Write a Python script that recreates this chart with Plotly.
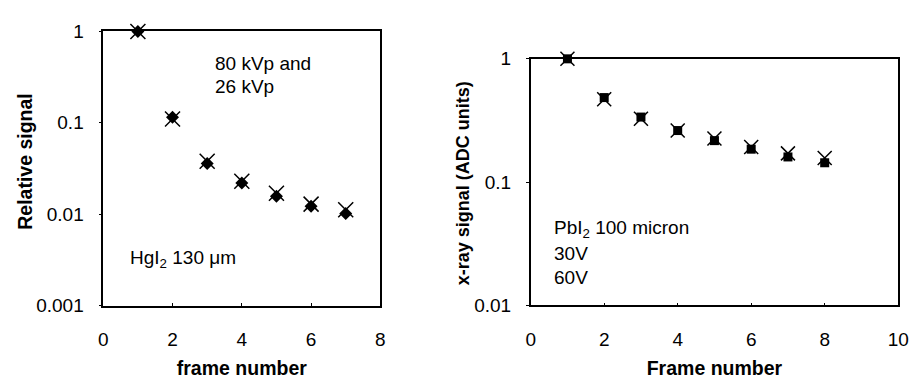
import plotly.graph_objects as go

# Left panel: HgI2 130 um
frames_left = [1, 2, 3, 4, 5, 6, 7]
left_diamond = [1.0, 0.115, 0.036, 0.022, 0.0157, 0.0122, 0.0102]
left_x = [1.0, 0.11, 0.038, 0.023, 0.017, 0.0129, 0.0112]

# Right panel: PbI2 100 micron
frames_right = [1, 2, 3, 4, 5, 6, 7, 8]
right_square = [1.0, 0.485, 0.337, 0.262, 0.217, 0.185, 0.160, 0.1435]
right_x = [1.0, 0.47, 0.327, 0.262, 0.226, 0.193, 0.171, 0.157]

left_xticks = [0, 2, 4, 6, 8]
right_xticks = [0, 2, 4, 6, 8, 10]
left_yticks = [1, 0.1, 0.01, 0.001]
left_yticktext = ["1", "0.1", "0.01", "0.001"]
right_yticks = [1, 0.1, 0.01]
right_yticktext = ["1", "0.1", "0.01"]

W, H = 920, 379
FONT = "Liberation Sans, Arial, Helvetica, sans-serif"
TICK_SIZE = 19
ANN_SIZE = 19


def px(x):
    return x / W


def py(y):
    return 1 - y / H


def tf(size):
    return dict(family=FONT, size=size, color="black")


fig = go.Figure()

fig.add_trace(go.Scatter(x=frames_left, y=left_diamond, mode="markers", xaxis="x", yaxis="y",
                         marker=dict(symbol="diamond", size=10, color="black"), cliponaxis=False,
                         showlegend=False))
fig.add_trace(go.Scatter(x=frames_left, y=left_x, mode="markers", xaxis="x", yaxis="y",
                         marker=dict(symbol="x-thin-open", size=15, color="black",
                                     line=dict(width=1.5, color="black")), cliponaxis=False,
                         showlegend=False))
fig.add_trace(go.Scatter(x=frames_right, y=right_square, mode="markers", xaxis="x2", yaxis="y2",
                         marker=dict(symbol="square", size=9, color="black"), cliponaxis=False,
                         showlegend=False))
fig.add_trace(go.Scatter(x=frames_right, y=right_x, mode="markers", xaxis="x2", yaxis="y2",
                         marker=dict(symbol="x-thin-open", size=14, color="black",
                                     line=dict(width=1.5, color="black")), cliponaxis=False,
                         showlegend=False))

axis_common = dict(showline=True, linecolor="black", linewidth=1.5, mirror=True,
                   showgrid=False, zeroline=False, tickfont=tf(TICK_SIZE))

fig.update_layout(
    width=W, height=H,
    margin=dict(l=0, r=0, t=0, b=0),
    paper_bgcolor="white", plot_bgcolor="white",
    xaxis=dict(domain=[px(100), px(382)], range=[0, 8], tickvals=left_xticks,
               ticks="inside", ticklen=3, tickcolor="black", ticklabelstandoff=16,
               title=dict(text="<b>frame number</b>", font=tf(19.5)),
               anchor="y", **axis_common),
    yaxis=dict(domain=[py(313), py(22.7)], type="log", range=[-3, 0],
               tickvals=left_yticks, ticktext=left_yticktext,
               ticks="outside", ticklen=3, tickcolor="black", ticklabelstandoff=11,
               anchor="x", **axis_common),
    xaxis2=dict(domain=[px(535), px(909)], range=[0, 10], tickvals=right_xticks,
                ticks="inside", ticklen=3, tickcolor="black", ticklabelstandoff=16,
                title=dict(text="<b>Frame number</b>", font=tf(19.5)),
                anchor="y2", **axis_common),
    yaxis2=dict(domain=[py(312.7), py(51.7)], type="log", range=[-2, 0],
                tickvals=right_yticks, ticktext=right_yticktext,
                ticks="outside", ticklen=3, tickcolor="black", ticklabelstandoff=11,
                anchor="x2", **axis_common),
)

ann_font = tf(ANN_SIZE)

annotations = [
    dict(text="80 kVp and", x=px(212), y=py(57), xanchor="left", yanchor="middle", font=ann_font),
    dict(text="26 kVp", x=px(212), y=py(81), xanchor="left", yanchor="middle", font=ann_font),
    dict(text="HgI<sub>2</sub> 130 \u03bcm", x=px(125), y=py(264), xanchor="left", yanchor="middle", font=ann_font),
    dict(text="PbI<sub>2</sub> 100 micron", x=px(557), y=py(232), xanchor="left", yanchor="middle", font=ann_font),
    dict(text="30V", x=px(557), y=py(258), xanchor="left", yanchor="middle", font=ann_font),
    dict(text="60V", x=px(557), y=py(283), xanchor="left", yanchor="middle", font=ann_font),
    dict(text="<b>Relative signal</b>", x=px(20), y=py(160), xanchor="center", yanchor="middle",
         textangle=-90, font=tf(19.5)),
    dict(text="<b>x-ray signal (ADC units)</b>", x=px(466), y=py(183.5), xanchor="center", yanchor="middle",
         textangle=-90, font=tf(18)),
]
for a in annotations:
    a.update(xref="paper", yref="paper", showarrow=False)
fig.update_layout(annotations=annotations)

fig.write_html("out.html")
